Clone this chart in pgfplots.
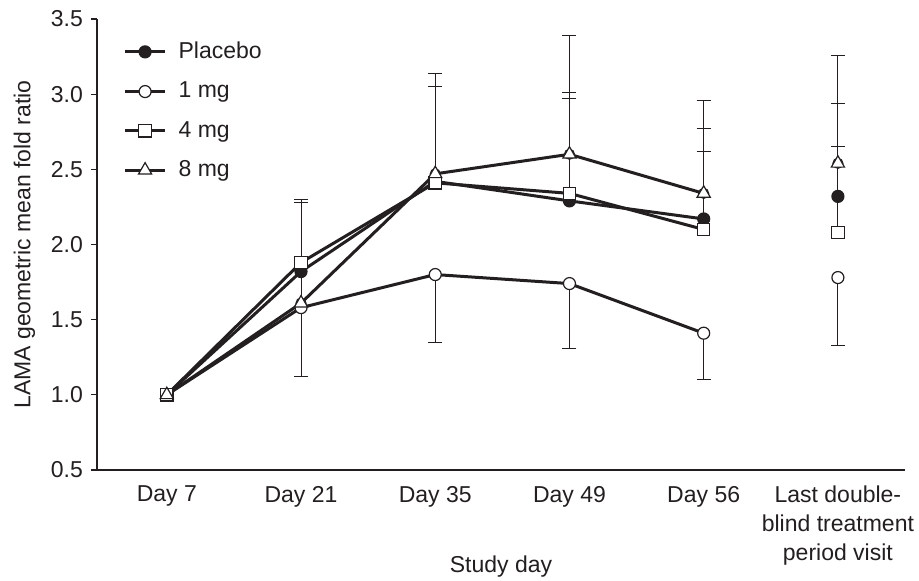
\documentclass[border=0pt]{standalone}
\usepackage{fontspec}
\setmainfont{Liberation Sans}
\usepackage{pgfplots}
\pgfplotsset{compat=1.18}
\definecolor{ink}{HTML}{231F20}
\begin{document}
\fontsize{11.5}{14}\selectfont
\begin{tikzpicture}
\useasboundingbox (-48.5pt,-55.5pt) rectangle (411pt,235pt);
\begin{axis}[
  at={(0,0)}, anchor=south west,
  scale only axis,
  width=404pt, height=225.5pt,
  xmin=-0.52, xmax=5.5,
  ymin=0.5, ymax=3.5,
  axis x line=bottom, axis y line=left,
  axis line style={-, line width=1pt, ink},
  xtick={0,1,2,3,4,5},
  xticklabels={Day 7, Day 21, Day 35, Day 49, Day 56, {Last double-\\blind treatment\\period visit}},
  x tick label style={align=center, font=\fontsize{11.5}{14.5}\selectfont, text=ink, yshift=-1pt},
  major x tick style={draw=none},
  ytick={0.5,1.0,1.5,2.0,2.5,3.0,3.5},
  y tick label style={font=\fontsize{11.5}{13}\selectfont, text=ink},
  yticklabel style={/pgf/number format/.cd, fixed, fixed zerofill, precision=1, assume math mode=true},
  major y tick style={line width=0.6pt, ink},
  tick align=outside,
  major tick length=3pt,
  xlabel={Study day},
  ylabel={LAMA geometric mean fold ratio},
  label style={font=\fontsize{11.5}{13}\selectfont, text=ink},
  xlabel style={at={(axis description cs:0.5,0)}, anchor=center, yshift=-48.5pt},
  legend style={at={(0.025,0.968)}, anchor=north west, draw=none, fill=none,
    font=\fontsize{11.5}{13}\selectfont, row sep=6pt, text=ink},
  legend cell align=left,
  legend image code/.code={%
    \draw[mark repeat=2, mark phase=2] plot coordinates {(0pt,0pt) (10pt,0pt) (20pt,0pt)};
    \path (24pt,0pt);},
  every axis plot/.append style={line width=1.5pt, color=ink},
]
% error bars (drawn first, under markers)
\addplot[forget plot, only marks, mark=none,
  error bars/.cd, y dir=plus, y explicit,
  error bar style={line width=0.5pt, ink},
  error mark options={rotate=90, line width=0.5pt, mark size=3.5pt, ink}]
  coordinates {
  (1,1.82) +- (0,0.46) (2,2.42) +- (0,0.63) (3,2.29) +- (0,0.68) (4,2.17) +- (0,0.60) (5,2.32) +- (0,0.62)
  };
\addplot[forget plot, only marks, mark=none,
  error bars/.cd, y dir=plus, y explicit,
  error bar style={line width=0.5pt, ink},
  error mark options={rotate=90, line width=0.5pt, mark size=3.5pt, ink}]
  coordinates {
  (1,1.88) +- (0,0.42) (2,2.41) +- (0,0.64) (3,2.34) +- (0,0.67) (4,2.10) +- (0,0.52) (5,2.08) +- (0,0.57)
  };
\addplot[forget plot, only marks, mark=none,
  error bars/.cd, y dir=plus, y explicit,
  error bar style={line width=0.5pt, ink},
  error mark options={rotate=90, line width=0.5pt, mark size=3.5pt, ink}]
  coordinates {
  (1,1.61) +- (0,0.67) (2,2.47) +- (0,0.67) (3,2.60) +- (0,0.79) (4,2.34) +- (0,0.62) (5,2.54) +- (0,0.72)
  };
\addplot[forget plot, only marks, mark=none,
  error bars/.cd, y dir=minus, y explicit,
  error bar style={line width=0.5pt, ink},
  error mark options={rotate=90, line width=0.5pt, mark size=3.5pt, ink}]
  coordinates {
  (1,1.58) +- (0,0.46) (2,1.80) +- (0,0.45) (3,1.74) +- (0,0.43) (4,1.41) +- (0,0.31) (5,1.78) +- (0,0.45)
  };
% lines
\addplot[mark=*, mark size=3pt, mark options={solid, fill=ink, draw=ink, line width=0.6pt}]
  coordinates {(0,1.0) (1,1.82) (2,2.42) (3,2.29) (4,2.17)};
\addlegendentry{Placebo}
\addplot[mark=*, mark size=3pt, mark options={solid, fill=white, draw=ink, line width=0.6pt}]
  coordinates {(0,1.0) (1,1.58) (2,1.80) (3,1.74) (4,1.41)};
\addlegendentry{1 mg}
\addplot[mark=square*, mark size=3.1pt, mark options={solid, fill=white, draw=ink, line width=0.6pt}]
  coordinates {(0,1.0) (1,1.88) (2,2.41) (3,2.34) (4,2.10)};
\addlegendentry{4 mg}
\addplot[mark=triangle*, mark size=3.8pt, mark options={solid, fill=white, draw=ink, line width=0.6pt}]
  coordinates {(0,1.0) (1,1.61) (2,2.47) (3,2.60) (4,2.34)};
\addlegendentry{8 mg}
% last visit points (not connected)
\addplot[forget plot, only marks, mark=*, mark size=3pt, mark options={fill=ink, draw=ink, line width=0.6pt}]
  coordinates {(5,2.32)};
\addplot[forget plot, only marks, mark=*, mark size=3pt, mark options={fill=white, draw=ink, line width=0.6pt}]
  coordinates {(5,1.78)};
\addplot[forget plot, only marks, mark=square*, mark size=3.1pt, mark options={fill=white, draw=ink, line width=0.6pt}]
  coordinates {(5,2.08)};
\addplot[forget plot, only marks, mark=triangle*, mark size=3.8pt, mark options={fill=white, draw=ink, line width=0.6pt}]
  coordinates {(5,2.54)};
\end{axis}
\end{tikzpicture}
\end{document}
